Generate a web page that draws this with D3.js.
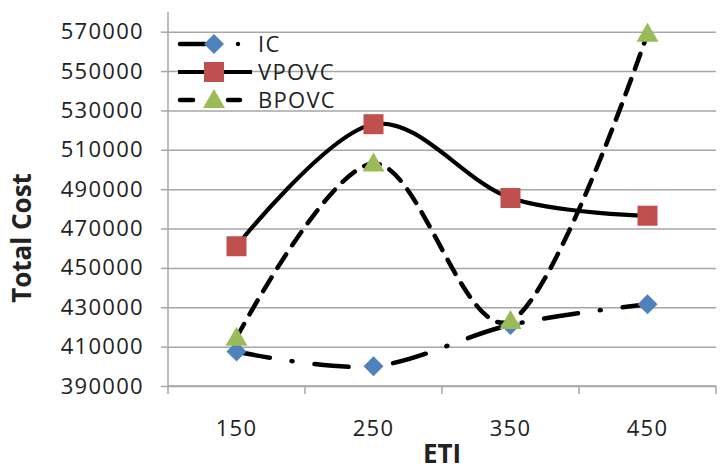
<!DOCTYPE html>
<html>
<head>
<meta charset="utf-8">
<script src="https://cdn.jsdelivr.net/npm/d3@7"></script>
<style>
  body { margin: 0; background: #fff; }
  text { font-family: "Open Sans", sans-serif; fill: #222; }
</style>
</head>
<body>
<script>
const width = 725;
const height = 471;

const categories = ["150", "250", "350", "450"];
const yTicks = [390000, 410000, 430000, 450000, 470000, 490000, 510000, 530000, 550000, 570000];
const icValues = [407500, 400000, 421000, 431500];
const vpovcValues = [461000, 523000, 485500, 476500];
const bpovcValues = [414500, 503000, 423000, 569000];

const series = [
  { name: "IC", values: icValues, dash: "34,22,1,22", marker: "diamond", color: "#4f81bd", lw: 4.5 },
  { name: "VPOVC", values: vpovcValues, dash: null, marker: "square", color: "#c0504d", lw: 4.2 },
  { name: "BPOVC", values: bpovcValues, dash: "16,11", marker: "triangle", color: "#9bbb59", lw: 4.5 }
];

const plotLeft = 168, plotRight = 716, plotTop = 12, plotBottom = 386;

const svg = d3.select("body").append("svg")
  .attr("width", width)
  .attr("height", height);

const x = d3.scaleBand().domain(categories).range([plotLeft, plotRight]).padding(0);
const y = d3.scaleLinear().domain([390000, 580000]).range([plotBottom, plotTop]);

// gridlines
svg.append("g")
  .attr("transform", `translate(${plotLeft},0)`)
  .call(d3.axisLeft(y).tickValues(yTicks).tickSize(-(plotRight - plotLeft)).tickFormat(""))
  .call(g => g.select(".domain").remove())
  .call(g => g.selectAll("line").attr("stroke", "#a6a6a6").attr("stroke-width", 1.5));

// y axis
svg.append("g")
  .attr("transform", `translate(${plotLeft},0)`)
  .call(d3.axisLeft(y).tickValues(yTicks).tickSize(7).tickPadding(17).tickFormat(d3.format("d")))
  .call(g => g.select(".domain").attr("stroke", "#a6a6a6").attr("stroke-width", 1.5)
    .attr("d", `M0,${plotTop}V${plotBottom}`))
  .call(g => g.selectAll("line").attr("stroke", "#a6a6a6").attr("stroke-width", 1.5))
  .call(g => g.selectAll("text").style("font-size", "22px").style("letter-spacing", "1.3px").attr("fill", "#1e1e1e"));

// x axis
svg.append("g")
  .attr("transform", `translate(0,${plotBottom})`)
  .call(d3.axisBottom(x).tickSize(0).tickPadding(34))
  .call(g => g.select(".domain").attr("stroke", "#a6a6a6").attr("stroke-width", 1.5)
    .attr("d", `M${plotLeft},0H${plotRight}`))
  .call(g => g.selectAll("text").style("font-size", "22px").style("letter-spacing", "1.3px").attr("fill", "#1e1e1e"));

// category boundary ticks
svg.append("g")
  .selectAll("line")
  .data([categories[0]].concat(categories))
  .join("line")
  .attr("x1", (d, i) => i === 0 ? x(d) : x(d) + x.bandwidth())
  .attr("x2", (d, i) => i === 0 ? x(d) : x(d) + x.bandwidth())
  .attr("y1", plotBottom)
  .attr("y2", plotBottom + 8)
  .attr("stroke", "#a6a6a6")
  .attr("stroke-width", 1.5);

// axis titles
svg.append("text")
  .attr("transform", `translate(31,238) rotate(-90)`)
  .attr("text-anchor", "middle")
  .style("font-size", "26px")
  .style("font-weight", "bold")
  .text("Total Cost");

svg.append("text")
  .attr("x", (plotLeft + plotRight) / 2)
  .attr("y", 463)
  .attr("text-anchor", "middle")
  .style("font-size", "26px")
  .style("font-weight", "bold")
  .text("ETI");

const cx = (d, i) => x(categories[i]) + x.bandwidth() / 2;

const line = d3.line()
  .x((d, i) => cx(d, i))
  .y(d => y(d))
  .curve(d3.curveCardinal.tension(0));

function drawMarker(g, type, color) {
  if (type === "diamond") {
    g.append("path").attr("d", "M0,-10L10,0L0,10L-10,0Z").attr("fill", color);
  } else if (type === "square") {
    g.append("rect").attr("x", -10).attr("y", -10).attr("width", 20).attr("height", 20).attr("fill", color);
  } else {
    g.append("path").attr("d", "M0,-11L11,8L-11,8Z").attr("fill", color);
  }
}

series.forEach(s => {
  svg.append("path")
    .datum(s.values)
    .attr("d", line)
    .attr("fill", "none")
    .attr("stroke", "#000")
    .attr("stroke-width", s.lw)
    .attr("stroke-linecap", "round")
    .attr("stroke-dasharray", s.dash);
});

series.forEach(s => {
  s.values.forEach((v, i) => {
    const g = svg.append("g").attr("transform", `translate(${cx(v, i)},${y(v)})`);
    drawMarker(g, s.marker, s.color);
  });
});

// legend
const legendRows = [44, 72, 100];
const legend = svg.append("g");
series.forEach((s, i) => {
  const ly = legendRows[i];
  const g = legend.append("g").attr("transform", `translate(0,${ly})`);
  if (s.name === "IC") {
    g.append("line").attr("x1", 180).attr("x2", 205).attr("y1", 0).attr("y2", 0)
      .attr("stroke", "#000").attr("stroke-width", 4.5).attr("stroke-linecap", "round");
    g.append("circle").attr("cx", 238).attr("cy", 0).attr("r", 2.2).attr("fill", "#000");
  } else if (s.name === "VPOVC") {
    g.append("line").attr("x1", 178).attr("x2", 252).attr("y1", 0).attr("y2", 0)
      .attr("stroke", "#000").attr("stroke-width", 4.2);
  } else {
    g.append("line").attr("x1", 180).attr("x2", 193).attr("y1", 0).attr("y2", 0)
      .attr("stroke", "#000").attr("stroke-width", 4.5).attr("stroke-linecap", "round");
    g.append("line").attr("x1", 228).attr("x2", 240).attr("y1", 0).attr("y2", 0)
      .attr("stroke", "#000").attr("stroke-width", 4.5).attr("stroke-linecap", "round");
  }
  const m = g.append("g").attr("transform", "translate(214,0)");
  drawMarker(m, s.marker, s.color);
  g.append("text")
    .attr("x", 258)
    .attr("y", 0)
    .attr("dy", "0.35em")
    .style("font-size", "22px")
    .style("letter-spacing", "1.3px")
    .attr("fill", "#1e1e1e")
    .text(s.name);
});
</script>
</body>
</html>
